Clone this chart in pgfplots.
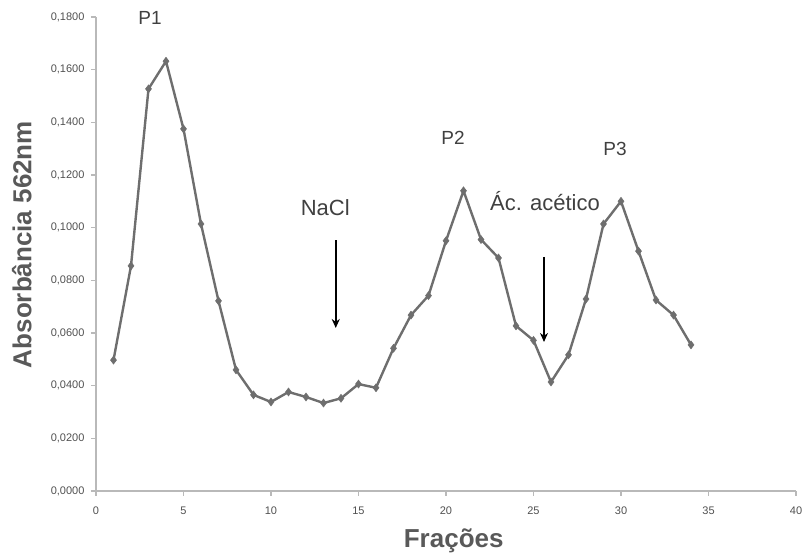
\documentclass[border=0pt]{standalone}
\usepackage{pgfplots}
\pgfplotsset{compat=1.18}
\usetikzlibrary{arrows.meta}
\usepackage{fontspec}
\setmainfont{Liberation Sans}
\definecolor{linegray}{RGB}{110,110,110}
\definecolor{axgray}{RGB}{185,185,185}
\definecolor{txtgray}{RGB}{89,89,89}
\definecolor{tickgray}{RGB}{80,80,80}
\definecolor{annot}{RGB}{64,64,64}
\begin{document}
\begin{tikzpicture}[x=1pt,y=1pt]
\useasboundingbox (-96,-65) rectangle (708,491);
\begin{axis}[
  at={(0,0)}, anchor=south west,
  scale only axis, width=700pt, height=474pt,
  xmin=0, xmax=40, ymin=0, ymax=0.18,
  xtick={0,5,...,40}, ytick={0,0.02,...,0.18},
  axis lines*=left,
  axis line style={draw=axgray, line width=1.6pt},
  tick style={draw=axgray, line width=1.2pt},
  tick align=outside, major tick length=5pt,
  x axis line style={-}, y axis line style={-},
  /pgf/number format/assume math mode=true,
  yticklabel style={/pgf/number format/.cd, fixed, fixed zerofill, precision=4, use comma, /tikz/.cd, xshift=-3pt},
  xticklabel style={/pgf/number format/.cd, fixed, /tikz/.cd, yshift=-7pt},
  ticklabel style={font=\fontsize{11}{13}\selectfont, text=tickgray},
  scaled y ticks=false,
  xlabel={Frações}, ylabel={Absorbância 562nm},
  xlabel style={font=\fontsize{26}{30}\selectfont\bfseries, text=txtgray, at={(axis description cs:0.511,-0.105)}, anchor=center},
  ylabel style={font=\fontsize{26}{30}\selectfont\bfseries, text=txtgray, at={(axis description cs:-0.106,0.52)}, anchor=center},
  clip=false,
]
\addplot[color=linegray, line width=2.4pt, mark=diamond*, mark size=4pt, mark options={solid, fill=linegray, line width=0.5pt}] coordinates {
(1,0.0497) (2,0.0855) (3,0.1527) (4,0.1632) (5,0.1375) (6,0.1014) (7,0.0722) (8,0.0460)
(9,0.0365) (10,0.0338) (11,0.0376) (12,0.0357) (13,0.0334) (14,0.0352) (15,0.0406) (16,0.0392)
(17,0.0542) (18,0.0668) (19,0.0742) (20,0.0950) (21,0.1140) (22,0.0955) (23,0.0885) (24,0.0627)
(25,0.0572) (26,0.0414) (27,0.0517) (28,0.0729) (29,0.1014) (30,0.1100) (31,0.0911) (32,0.0725)
(33,0.0668) (34,0.0555)
};
\node[font=\fontsize{19}{22}\selectfont, text=annot] at (axis cs:3.09,0.1796) {P1};
\node[font=\fontsize{19}{22}\selectfont, text=annot] at (axis cs:20.4,0.134) {P2};
\node[font=\fontsize{19}{22}\selectfont, text=annot] at (axis cs:29.66,0.130) {P3};
\node[font=\fontsize{22}{26}\selectfont, text=annot] at (axis cs:13.1,0.1075) {NaCl};
\node[font=\fontsize{22}{26}\selectfont, text=annot] at (axis cs:25.66,0.110) {Ác. acético};
\draw[-{Stealth[length=9pt,width=8pt]}, black, line width=2.2pt] (axis cs:13.7,0.0953) -- (axis cs:13.7,0.0619);
\draw[-{Stealth[length=9pt,width=8pt]}, black, line width=2.2pt] (axis cs:25.6,0.0889) -- (axis cs:25.6,0.0566);
\end{axis}
\end{tikzpicture}
\end{document}
